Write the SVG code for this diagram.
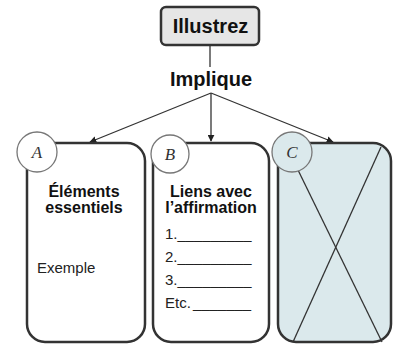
<svg xmlns="http://www.w3.org/2000/svg" width="393" height="345" viewBox="0 0 393 345">
<style>
.bx{stroke:#333;stroke-width:2.5;}
.b{font-family:"Liberation Sans",Arial,sans-serif;font-weight:bold;fill:#111;text-anchor:middle;}
.r{font-family:"Liberation Sans",Arial,sans-serif;fill:#222;font-size:15px;}
.cir{stroke:#777;stroke-width:1.3;}
.ltr{font-family:"Liberation Serif",serif;font-style:italic;font-size:17px;fill:#333;text-anchor:middle;}
.cn{stroke:#333;stroke-width:1.3;fill:none;}
</style>
<defs>
<marker id="ah" viewBox="0 0 10 10" refX="9" refY="5" markerWidth="7" markerHeight="7" orient="auto" markerUnits="userSpaceOnUse">
<path d="M0,0 L10,5 L0,10 z" fill="#222"/>
</marker>
</defs>
<rect width="393" height="345" fill="#fff"/>
<g id="connectors">
<line class="cn" x1="210" y1="45" x2="210" y2="67"/>
<line class="cn" x1="211" y1="93" x2="90" y2="142" marker-end="url(#ah)"/>
<line class="cn" x1="211" y1="93" x2="211" y2="141" marker-end="url(#ah)"/>
<line class="cn" x1="211" y1="93" x2="333" y2="142" marker-end="url(#ah)"/>
</g>
<g id="illustrez">
<rect class="bx" x="161" y="7" width="98" height="38" rx="5" fill="#e6e6e6"/>
<text class="b" x="210.5" y="33" font-size="20">Illustrez</text>
</g>
<g id="implique">
<text class="b" x="211" y="86" font-size="20">Implique</text>
</g>
<g id="boxA">
<rect class="bx" x="27" y="143" width="118" height="199" rx="18" fill="#fff"/>
<text class="b" x="84" y="197" font-size="16">Éléments</text>
<text class="b" x="84" y="213" font-size="16">essentiels</text>
<text class="r" x="37" y="273">Exemple</text>
</g>
<g id="boxB">
<rect class="bx" x="153" y="143" width="116" height="199" rx="18" fill="#fff"/>
<text class="b" x="211" y="197" font-size="16">Liens avec</text>
<text class="b" x="211" y="213" font-size="16">l’affirmation</text>
<text class="r" x="165" y="239">1.<tspan textLength="74" lengthAdjust="spacingAndGlyphs">_________</tspan></text>
<text class="r" x="165" y="262">2.<tspan textLength="74" lengthAdjust="spacingAndGlyphs">_________</tspan></text>
<text class="r" x="165" y="285">3.<tspan textLength="74" lengthAdjust="spacingAndGlyphs">_________</tspan></text>
<text class="r" x="165" y="308">Etc. <tspan x="193" textLength="58" lengthAdjust="spacingAndGlyphs">_______</tspan></text>
</g>
<g id="boxC">
<rect class="bx" x="278" y="143" width="113" height="199" rx="18" fill="#dbe9ec"/>
<line class="cn" x1="298" y1="170" x2="382" y2="342"/>
<line class="cn" x1="381" y1="147" x2="293" y2="342"/>
</g>
<g id="circleA">
<circle class="cir" cx="37" cy="152" r="20" fill="#fff"/>
<text class="ltr" x="37" y="158">A</text>
</g>
<g id="circleB">
<circle class="cir" cx="170" cy="154" r="19" fill="#fff"/>
<text class="ltr" x="170" y="160">B</text>
</g>
<g id="circleC">
<circle class="cir" cx="292" cy="152" r="20" fill="#dbe9ec"/>
<text class="ltr" x="292" y="158">C</text>
</g>
</svg>
